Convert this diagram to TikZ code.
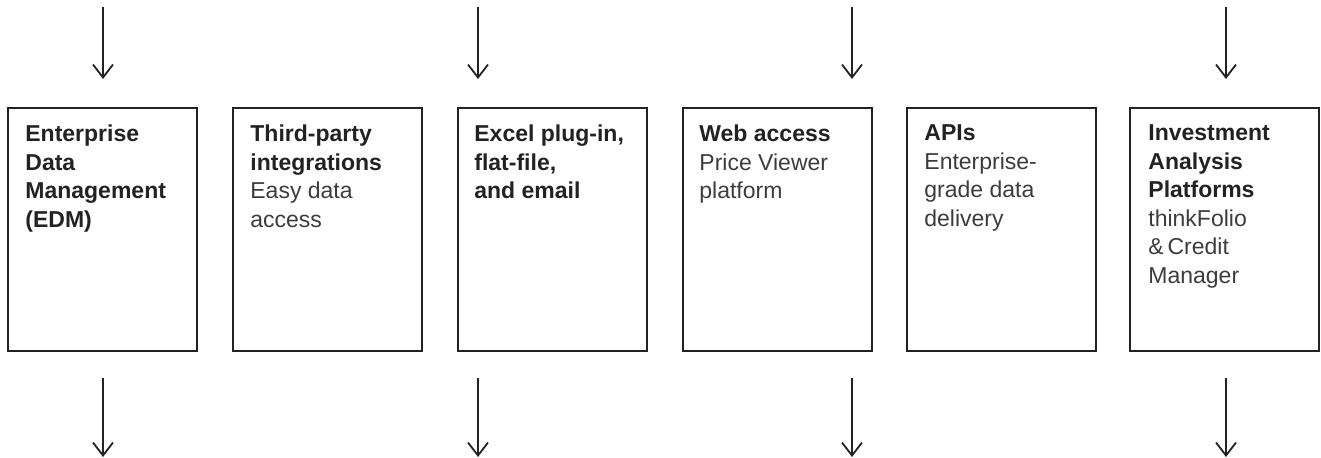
\documentclass[tikz,border=0pt]{standalone}
\usepackage{fontspec}
\setmainfont{Liberation Sans}
\usetikzlibrary{arrows.meta}
\definecolor{ink}{HTML}{222222}
\definecolor{subgray}{HTML}{3C3C3C}
\begin{document}
\begin{tikzpicture}[x=0.5pt, y=-0.5pt,
    box/.style={draw=ink, line width=0.9pt, anchor=north west, outer sep=0pt, minimum width=94.5pt, minimum height=121.5pt},
    txt/.style={anchor=north west, inner sep=0pt, align=left, text=ink, font=\fontsize{11.5pt}{14.25pt}\selectfont},
    arr/.style={draw=ink, line width=0.9pt, -{Straight Barb[length=6.5pt, width=10pt]}}]
      \useasboundingbox (0,0) rectangle (1321,458);
      \node[box] (1) at (8,108) {};
      \node[box] (2) at (233,108) {};
      \node[box] (3) at (458,108) {};
      \node[box] (4) at (683,108) {};
      \node[box] (5) at (907,108) {};
      \node[box] (6) at (1130,108) {};
      \node[txt] (t1) at (25,124.5) {\textbf{Enterprise}\\\textbf{Data}\\\textbf{Management}\\\textbf{(EDM)}};
      \node[txt] (t2) at (250,124.5) {\textbf{Third-party}\\\textbf{integrations}\\\color{subgray}Easy data\\\color{subgray}access};
      \node[txt] (t3) at (474,124.5) {\textbf{Excel plug-in,}\\\textbf{flat-file,}\\\textbf{and email}};
      \node[txt] (t4) at (699,124.5) {\textbf{Web access}\\\color{subgray}Price Viewer\\\color{subgray}platform};
      \node[txt] (t5) at (924,124.5) {\textbf{APIs}\\\color{subgray}Enterprise-\\\color{subgray}grade data\\\color{subgray}delivery};
      \node[txt] (t6) at (1148,124.5) {\textbf{Investment}\\\textbf{Analysis}\\\textbf{Platforms}\\\color{subgray}thinkFolio\\\color{subgray}\&\,Credit\\\color{subgray}Manager};
      % arrows in and out
      \foreach \n/\x in {1/103, 2/478, 3/852, 4/1226} {
        \coordinate (in\n) at (\x,7);
        \coordinate (to\n) at (\x,79);
        \coordinate (out\n) at (\x,378);
        \coordinate (end\n) at (\x,457);
      }
      \foreach \source/\dest in {in1/to1, in2/to2, in3/to3, in4/to4, out1/end1, out2/end2, out3/end3, out4/end4}
        \draw[arr] (\source) -- (\dest);
    \end{tikzpicture}
\end{document}
